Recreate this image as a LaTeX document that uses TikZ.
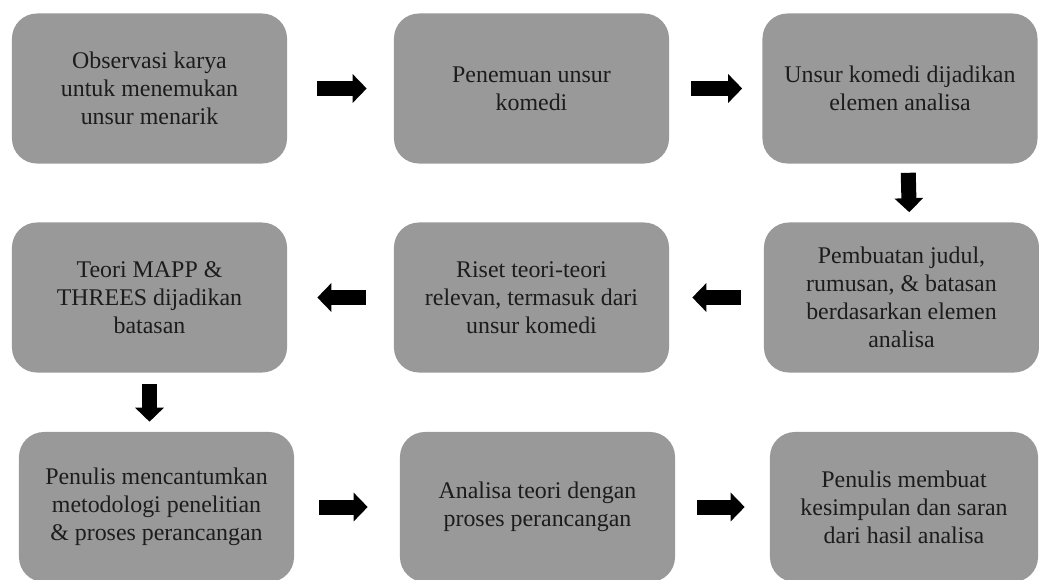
\documentclass[tikz,border=0pt]{standalone}
\usepackage{fontspec}
\setmainfont{Liberation Serif}
\usetikzlibrary{arrows.meta}
\usetikzlibrary{positioning}
\definecolor{boxgray}{RGB}{153,153,153}
\definecolor{textgray}{RGB}{28,28,28}

\begin{document}
\begin{tikzpicture}[x=0.025cm,y=-0.025cm,
    stepbox/.style={rectangle, rounded corners=0.625cm, fill=boxgray, text=textgray,
        minimum width=6.875cm, minimum height=3.75cm, align=center,
        font=\fontsize{17}{20}\selectfont},
    flow/.style={line width=0.375cm, -{Triangle[length=0.35cm,width=0.7cm]}}]
    \useasboundingbox (0,0) rectangle (1039,579);
    \clip (0,0) rectangle (1039,579);
    % first row
    \node[stepbox] (obs) at (149.5,88.5) {Observasi karya\\untuk menemukan\\unsur menarik};
    \node[stepbox] (temu) at (531.5,88.5) {Penemuan unsur\\komedi};
    \node[stepbox] (elemen) at (900,88.5) {Unsur komedi dijadikan\\elemen analisa};
    % second row
    \node[stepbox] (teori) at (149.5,297.5) {Teori MAPP \&\\THREES dijadikan\\batasan};
    \node[stepbox] (riset) at (531.5,297.5) {Riset teori-teori\\relevan, termasuk dari\\unsur komedi};
    \node[stepbox] (judul) at (901.5,297.5) {Pembuatan judul,\\rumusan, \& batasan\\berdasarkan elemen\\analisa};
    % third row
    \node[stepbox] (metode) at (156.5,507) {Penulis mencantumkan\\metodologi penelitian\\\& proses perancangan};
    \node[stepbox] (analisa) at (537.5,507) {Analisa teori dengan\\proses perancangan};
    \node[stepbox, minimum width=6.7cm] (simpul) at (904,507) {Penulis membuat\\kesimpulan dan saran\\dari hasil analisa};
    %
    \draw[flow, shorten <=0.75cm, shorten >=0.675cm] (obs) -- (temu);
    \draw[flow, shorten <=0.55cm, shorten >=0.5cm] (temu) -- (elemen);
    \draw[flow, shorten <=0.225cm, shorten >=0.25cm] ([xshift=0.2cm]elemen.south) -- ([xshift=0.2cm]judul.north);
    \draw[flow, shorten <=0.575cm, shorten >=0.575cm] (judul) -- (riset);
    \draw[flow, shorten <=0.7cm, shorten >=0.75cm] (riset) -- (teori);
    \draw[flow, shorten <=0.275cm, shorten >=0.25cm] (teori.south) -- (teori.south |- metode.north);
    \draw[flow, shorten <=0.625cm, shorten >=0.8cm] (metode) -- (analisa);
    \draw[flow, shorten <=0.55cm, shorten >=0.625cm] (analisa) -- (simpul);
\end{tikzpicture}
\end{document}
